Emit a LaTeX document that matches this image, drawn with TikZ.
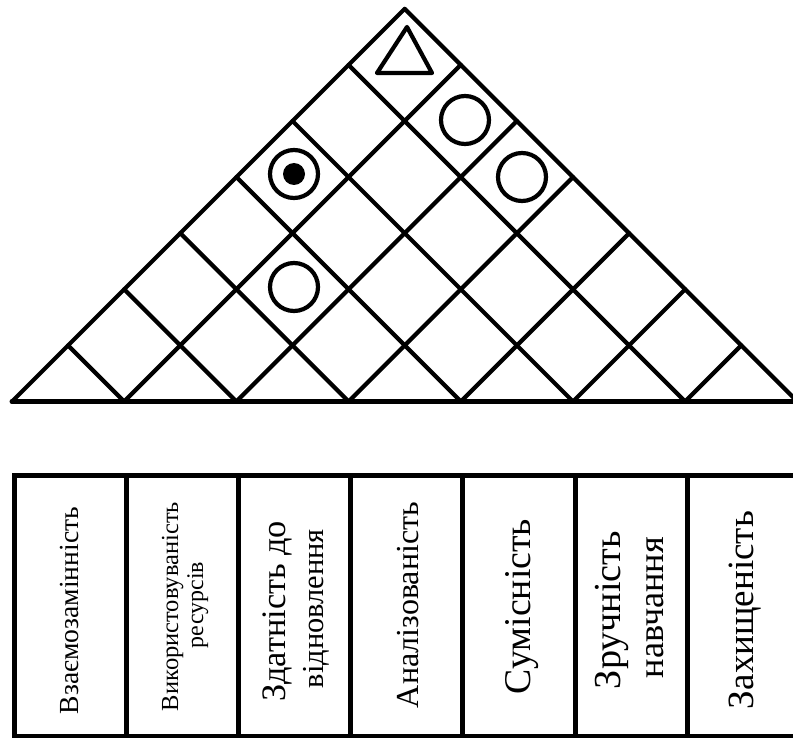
\documentclass[tikz,border=0pt]{standalone}
\usepackage{fontspec}
\setmainfont{Liberation Serif}
\newfontfamily\lblfont{Liberation Serif}
\usetikzlibrary{calc}
\newcommand{\fitlen}[2]{\resizebox{#1pt}{!}{\lblfont\fontsize{30pt}{34pt}\selectfont #2}}
\begin{document}
\begin{tikzpicture}[x=1pt,y=-1pt,
  gridline/.style={line width=4.2pt, line cap=round, line join=round},
  baseline/.style={line width=5pt, line cap=round},
  frame/.style={line width=5pt},
  symb/.style={line width=4.2pt, line join=round, line cap=round},
  ring/.style={circle, draw, line width=4.2pt, minimum size=48pt, inner sep=0pt},
  lbl/.style={rotate=90, anchor=base, inner sep=0pt, outer sep=0pt, font=\lblfont}]
\clip (0,0) rectangle (793,738);
% roof
\coordinate (A) at (404.7,8.8);
\foreach \k in {0,...,7} {\coordinate (B\k) at ({12+112.2*\k},401.5);}
\draw[gridline] (B0) -- (A) -- (B7);
\draw[baseline] (B0) -- (B7);
\foreach \k in {1,...,6} {
  \pgfmathsetmacro{\fl}{\k/7}
  \pgfmathsetmacro{\fr}{(7-\k)/7}
  \coordinate (L\k) at ($(B0)!\fl!(A)$);
  \coordinate (R\k) at ($(B7)!\fr!(A)$);
  \draw[gridline] (B\k) -- (L\k);
  \draw[gridline] (B\k) -- (R\k);
}
% symbols
\coordinate (t1) at (407,27);
\coordinate (t2) at (432,73);
\coordinate (t3) at (377,73);
\draw[symb] (t1) -- (t2) -- (t3) -- cycle;
\node[ring] (c1) at (465,120) {};
\node[ring] (c2) at (522,177) {};
\node[ring] (c3) at (294,174) {};
\node[ring] (c4) at (294,287) {};
\fill (c3.center) circle (11);
% table
\draw[frame] (14,475) rectangle (799.4,736);
\foreach \k in {1,...,6} {\draw[frame] ({14+112.2*\k},475) -- ({14+112.2*\k},736);}
% labels
\node[lbl] (l1) at (78,610.5) {\fitlen{207}{Взаємозамінність}};
\node[lbl] (l2a) at (178,606.5) {\fitlen{209}{Використовуваність}};
\node[lbl] (l2b) at (203,605) {\fitlen{86}{ресурсів}};
\node[lbl] (l3a) at (285,611) {\fitlen{180}{Здатність до}};
\node[lbl] (l3b) at (323,608.5) {\fitlen{159}{відновлення}};
\node[lbl] (l4) at (418,605) {\fitlen{206}{Аналізованість}};
\node[lbl] (l5) at (530,606.5) {\fitlen{175}{Сумісність}};
\node[lbl] (l6a) at (620,610) {\fitlen{158}{Зручність}};
\node[lbl] (l6b) at (663,607.5) {\fitlen{141}{навчання}};
\node[lbl] (l7) at (753,610) {\fitlen{198}{Захищеність}};
\end{tikzpicture}
\end{document}
